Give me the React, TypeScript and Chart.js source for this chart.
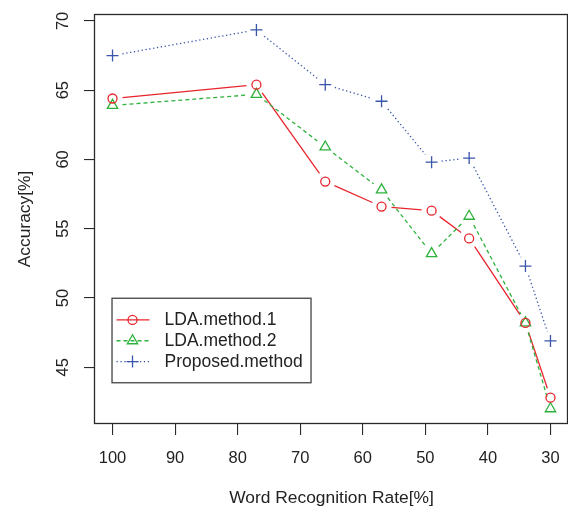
import { useEffect, useRef } from 'react';
import { Chart, registerables } from 'chart.js';

Chart.register(...registerables);

// ---- data ----
const recognitionRate = [100, 77, 66, 57, 49, 43, 34, 30];
const ldaMethod1 = [64.4, 65.4, 58.4, 56.6, 56.3, 54.3, 48.2, 42.8];
const ldaMethod2 = [63.9, 64.7, 60.9, 57.8, 53.2, 55.9, 48.2, 42.0];
const proposedMethod = [67.5, 69.35, 65.4, 64.2, 59.8, 60.1, 52.3, 46.9];
const seriesNames = ['LDA.method.1', 'LDA.method.2', 'Proposed.method'];
const xTicks = [100, 90, 80, 70, 60, 50, 40, 30];
const yTicks = [45, 50, 55, 60, 65, 70];
const xTitle = 'Word Recognition Rate[%]';
const yTitle = 'Accuracy[%]';

// ---- styles ----
const RED = '#e8242c';
const GREEN = '#2db23c';
const BLUE = '#3a56aa';
const AXIS = '#2a2a2a';
const TEXT = '#222';
const FONT = "'Liberation Sans', Arial, Helvetica, sans-serif";
const LINE_GAP = 10; // R type="b": segments stop short of the markers

Chart.defaults.font.family = FONT;
Chart.defaults.color = TEXT;

const toPoints = (ys: number[]) => recognitionRate.map((x, i) => ({ x, y: ys[i] }));

function drawMarker(ctx: CanvasRenderingContext2D, style: string, x: number, y: number, r: number, color: string, lw: number) {
  ctx.save();
  ctx.strokeStyle = color;
  ctx.lineWidth = lw;
  ctx.setLineDash([]);
  ctx.beginPath();
  if (style === 'circle') {
    ctx.arc(x, y, r, 0, Math.PI * 2);
    ctx.stroke();
  } else if (style === 'triangle') {
    let rad = 0;
    ctx.moveTo(x + Math.sin(rad) * r, y - Math.cos(rad) * r);
    rad += (Math.PI * 2) / 3;
    ctx.lineTo(x + Math.sin(rad) * r, y - Math.cos(rad) * r);
    rad += (Math.PI * 2) / 3;
    ctx.lineTo(x + Math.sin(rad) * r, y - Math.cos(rad) * r);
    ctx.closePath();
    ctx.stroke();
  } else {
    ctx.moveTo(x - r, y);
    ctx.lineTo(x + r, y);
    ctx.moveTo(x, y - r);
    ctx.lineTo(x, y + r);
    ctx.stroke();
  }
  ctx.restore();
}

// connects the library-positioned points with segments that leave a gap at each marker
const gapLinePlugin = {
  id: 'gapLines',
  beforeDatasetsDraw(chart: any) {
    const { ctx, chartArea } = chart;
    ctx.save();
    ctx.beginPath();
    ctx.rect(chartArea.left, chartArea.top, chartArea.right - chartArea.left, chartArea.bottom - chartArea.top);
    ctx.clip();
    chart.data.datasets.forEach((ds: any, i: number) => {
      const pts = chart.getDatasetMeta(i).data;
      ctx.strokeStyle = ds.borderColor;
      ctx.lineWidth = ds.borderWidth;
      ctx.setLineDash(ds.borderDash || []);
      for (let k = 0; k < pts.length - 1; k++) {
        const a = pts[k];
        const b = pts[k + 1];
        const dx = b.x - a.x;
        const dy = b.y - a.y;
        const len = Math.hypot(dx, dy);
        if (len <= 2 * LINE_GAP) continue;
        const ux = dx / len;
        const uy = dy / len;
        ctx.beginPath();
        ctx.moveTo(a.x + ux * LINE_GAP, a.y + uy * LINE_GAP);
        ctx.lineTo(b.x - ux * LINE_GAP, b.y - uy * LINE_GAP);
        ctx.stroke();
      }
    });
    ctx.restore();
  },
};

const boxPlugin = {
  id: 'rbox',
  afterDatasetsDraw(chart: any) {
    const { ctx, chartArea } = chart;
    ctx.save();
    ctx.strokeStyle = AXIS;
    ctx.lineWidth = 1.3;
    ctx.setLineDash([]);
    const l = chartArea.left - 0.5;
    const t = chartArea.top + 0.5;
    const r = chartArea.right - 0.5;
    const b = chartArea.bottom - 0.5;
    ctx.strokeRect(l, t, r - l, b - t);
    ctx.restore();
  },
};

const legendPlugin = {
  id: 'rlegend',
  afterDraw(chart: any) {
    const { ctx } = chart;
    const xs = chart.scales.x;
    const ys = chart.scales.y;
    const left = xs.getPixelForValue(100) - 0.5;
    const top = ys.getPixelForValue(50) + 0.3;
    const w = 199;
    const h = 84.5;
    ctx.save();
    ctx.fillStyle = '#fff';
    ctx.fillRect(left, top, w, h);
    ctx.strokeStyle = '#444';
    ctx.lineWidth = 1.3;
    ctx.strokeRect(left, top, w, h);
    ctx.font = `17.5px ${FONT}`;
    ctx.textBaseline = 'middle';
    ctx.textAlign = 'left';
    chart.data.datasets.forEach((ds: any, i: number) => {
      const cy = top + 21.7 + i * 20.8;
      ctx.save();
      ctx.strokeStyle = ds.borderColor;
      ctx.lineWidth = ds.borderWidth;
      ctx.setLineDash(ds.borderDash || []);
      ctx.beginPath();
      ctx.moveTo(left + 4.5, cy);
      ctx.lineTo(left + 37.5, cy);
      ctx.stroke();
      ctx.restore();
      drawMarker(ctx, ds.pointStyle, left + 20.5, cy, ds.pointRadius, ds.pointBorderColor, ds.pointBorderWidth);
      ctx.fillStyle = TEXT;
      ctx.fillText(ds.label, left + 52.5, cy + 0.5);
    });
    ctx.restore();
  },
};

export default function App() {
  const ref = useRef<HTMLCanvasElement>(null);

  useEffect(() => {
    const canvas = ref.current;
    if (!canvas) return;
    const grid = {
      display: true,
      drawOnChartArea: false,
      drawTicks: true,
      tickLength: 11,
      color: AXIS,
      lineWidth: 1.1,
    };
    const zeroPad = (s: any) => {
      s.paddingLeft = 0;
      s.paddingRight = 0;
      s.paddingTop = 0;
      s.paddingBottom = 0;
    };
    const common = {
      showLine: false,
      borderWidth: 1.3,
      pointBorderWidth: 1.3,
      pointBackgroundColor: 'rgba(0,0,0,0)',
      tension: 0,
      fill: false,
    };
    const chart = new Chart(canvas, {
      type: 'line',
      data: {
        datasets: [
          {
            ...common,
            label: seriesNames[0],
            data: toPoints(ldaMethod1),
            borderColor: RED,
            pointStyle: 'circle',
            pointRadius: 4.5,
            pointBorderColor: RED,
          },
          {
            ...common,
            label: seriesNames[1],
            data: toPoints(ldaMethod2),
            borderColor: GREEN,
            borderDash: [4, 3],
            pointStyle: 'triangle',
            pointRadius: 6,
            pointBorderColor: GREEN,
          },
          {
            ...common,
            label: seriesNames[2],
            data: toPoints(proposedMethod),
            borderColor: BLUE,
            borderDash: [1.3, 2.6],
            pointStyle: 'cross',
            pointRadius: 6,
            pointBorderColor: BLUE,
          },
        ] as any,
      },
      options: {
        animation: false,
        responsive: false,
        maintainAspectRatio: false,
        layout: { autoPadding: false, padding: { top: 14, left: 0, right: 0, bottom: 0 } },
        plugins: {
          legend: { display: false },
          tooltip: { enabled: false },
        },
        scales: {
          x: {
            type: 'linear',
            reverse: true,
            min: 27.2,
            max: 102.8,
            afterBuildTicks: (s: any) => {
              s.ticks = xTicks.map((v) => ({ value: v }));
            },
            afterFit: (s: any) => {
              s.height = 84;
              zeroPad(s);
            },
            grid,
            border: { display: false },
            ticks: {
              font: { size: 16.5 },
              padding: 13.5,
              maxRotation: 0,
              minRotation: 0,
              autoSkip: false,
              color: TEXT,
            },
            title: {
              display: true,
              text: xTitle,
              font: { size: 17.4 },
              padding: { top: 0, bottom: -1 },
              color: TEXT,
            },
          },
          y: {
            type: 'linear',
            min: 40.9,
            max: 70.5,
            afterBuildTicks: (s: any) => {
              s.ticks = yTicks.map((v) => ({ value: v }));
            },
            afterFit: (s: any) => {
              s.width = 95;
              zeroPad(s);
            },
            grid,
            border: { display: false },
            ticks: {
              font: { size: 16.5 },
              padding: 11.5,
              minRotation: 90,
              maxRotation: 90,
              crossAlign: 'center',
              autoSkip: false,
              color: TEXT,
            },
            title: {
              display: true,
              text: yTitle,
              font: { size: 17.4 },
              padding: { top: 14.5, bottom: 0 },
              color: TEXT,
            },
          },
        },
      } as any,
      plugins: [gapLinePlugin, boxPlugin, legendPlugin],
    });
    return () => chart.destroy();
  }, []);

  return (
    <div style={{ position: 'fixed', left: 0, top: 0, width: 568, height: 508, background: '#fff' }}>
      <canvas ref={ref} width={568} height={508} style={{ display: 'block', width: 568, height: 508 }} />
    </div>
  );
}
